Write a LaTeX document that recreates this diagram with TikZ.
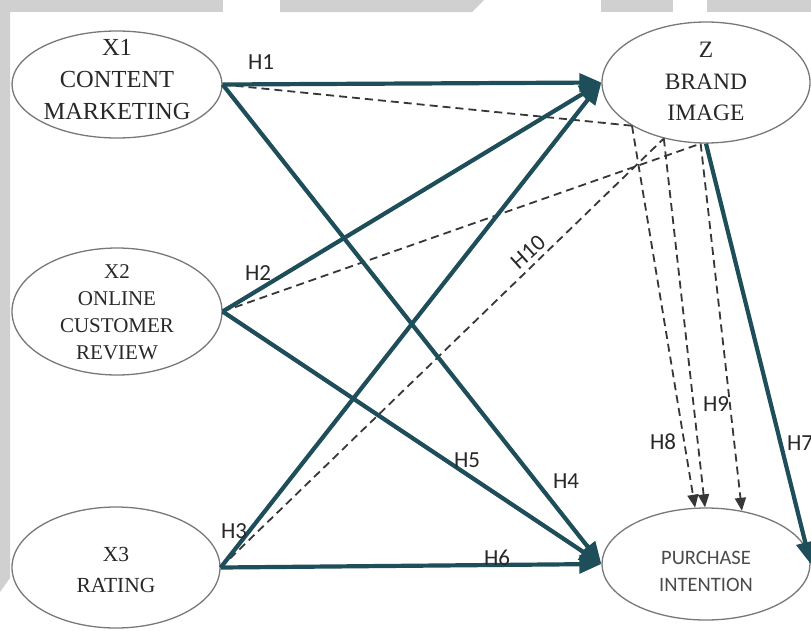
\documentclass[tikz,border=0pt]{standalone}
\usepackage{fontspec}
\setmainfont{Liberation Serif}
\newfontfamily\labelfont{Carlito}
\usetikzlibrary{arrows.meta,shapes.geometric}

\definecolor{pathteal}{RGB}{30,78,90}
\definecolor{dashgrey}{RGB}{55,55,55}
\definecolor{rimgrey}{RGB}{120,120,120}
\definecolor{framegrey}{RGB}{208,208,208}
\definecolor{inkgrey}{RGB}{40,40,40}
\definecolor{softink}{RGB}{75,75,75}

\begin{document}
\begin{tikzpicture}[x=1pt,y=-1pt,
  latent/.style={ellipse, draw=rimgrey, line width=1.3pt, inner sep=0pt},
  serifname/.style={align=center, text=inkgrey, inner sep=0pt},
  hyp/.style={font=\labelfont\fontsize{23}{23}\selectfont, text=inkgrey, inner sep=0pt},
  direct/.style={draw=pathteal, line width=4.2pt, -{Triangle[length=22pt,width=18pt]}},
  indirect/.style={draw=dashgrey, line width=1.8pt, dash pattern=on 8pt off 5pt},
  indirectarrow/.style={indirect, -{Triangle[length=13pt,width=11pt]}},
]
\useasboundingbox (0,0) rectangle (811,630);
\fill[white] (0,0) rectangle (811,630);

% grey frame pieces along the top and left edges
\fill[framegrey] (0,0) rectangle (223,12);
\fill[framegrey] (280,0) -- (484,0) -- (472,12) -- (280,12) -- cycle;
\fill[framegrey] (601,0) rectangle (673,12);
\fill[framegrey] (707,0) rectangle (811,12);
\fill[framegrey] (0,0) -- (10,0) -- (10,578) -- (0,592) -- cycle;

% latent variables
\node[latent, minimum width=210pt, minimum height=107pt] (x1) at (117,84.5) {};
\node[latent, minimum width=210pt, minimum height=127pt] (x2) at (117,311.5) {};
\node[latent, minimum width=208pt, minimum height=121pt] (x3) at (116,567.5) {};
\node[latent, minimum width=208pt, minimum height=121pt] (z)  at (706,82.5) {};
\node[latent, minimum width=208pt, minimum height=112pt] (pi) at (706,564) {};

\node[serifname, font=\fontsize{24.5}{32}\selectfont] (x1t) at (117,80) {X1\\CONTENT\\MARKETING};
\node[serifname, font=\fontsize{21}{27}\selectfont] (x2t) at (117,312.5) {X2\\ONLINE\\CUSTOMER\\REVIEW};
\node[serifname, font=\fontsize{21.5}{31}\selectfont] (x3t) at (116,570) {X3\\RATING};
\node[serifname, font=\fontsize{23.5}{31.5}\selectfont] (zt) at (706,81.5) {Z\\BRAND\\IMAGE};
\node[serifname, text=softink, font=\labelfont\fontsize{20.5}{27}\selectfont] (pit) at (706,571.5) {PURCHASE\\INTENTION};

% indirect (mediated) paths through Z
\draw[indirect] (x1.east) -- (z.south west);
\draw[indirectarrow] (z.south west) -- (pi.101);
\draw[indirect] (x3.east) -- (z.233);
\draw[indirectarrow] (z.233) -- (pi.91);
\draw[indirect] (x2.east) -- (z.265);
\draw[indirectarrow] (z.265) -- (pi.56);

% direct paths
\draw[direct] (x1.east) -- (z.west);
\draw[direct] (x1.east) -- (pi.west);
\draw[direct] (x2.east) -- (z.west);
\draw[direct] (x2.east) -- (pi.west);
\draw[direct] (x3.east) -- (z.west);
\draw[direct] (x3.east) -- (pi.west);
\draw[direct] (z.south) -- (pi.east);

% hypothesis labels
\node[hyp] (h1) at (261,62) {H1};
\node[hyp] (h2) at (258,273) {H2};
\node[hyp] (h3) at (234,531) {H3};
\node[hyp] (h4) at (566,481) {H4};
\node[hyp] (h5) at (467,460) {H5};
\node[hyp] (h6) at (497,558) {H6};
\node[hyp] (h7) at (800,443) {H7};
\node[hyp] (h8) at (663,442) {H8};
\node[hyp] (h9) at (716,404) {H9};
\node[hyp, rotate=42] (h10) at (528,252) {H10};
\end{tikzpicture}
\end{document}
